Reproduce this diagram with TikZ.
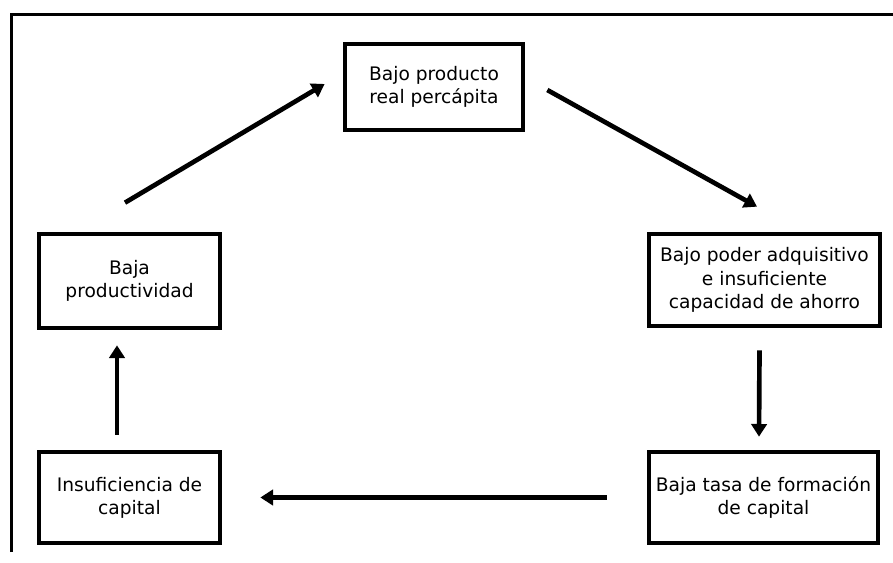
\documentclass[tikz,border=0pt]{standalone}
\usepackage{fontspec}
\setmainfont{DejaVu Sans}
\usetikzlibrary{arrows.meta}
\begin{document}
\begin{tikzpicture}[x=0.03cm,y=-0.03cm,
  caja/.style={draw,line width=0.14cm,align=center,inner sep=0pt,
    font=\fontsize{15.9}{19.8}\selectfont},
  flecha/.style={line width=0.14cm,-{Triangle[length=0.38cm,width=0.46cm]}}]
\useasboundingbox (0,0) rectangle (893,563);
% marco
\draw [line width=0.09cm] (11,552) -- (11,15) -- (893,15);
% cajas
\node [caja,minimum width=5.34cm,minimum height=2.58cm] (percapita) at (434,87) {Bajo producto\\real percápita};
\node [caja,minimum width=6.93cm,minimum height=2.76cm] (ahorro) at (764.5,280) {Bajo poder adquisitivo\\e insuficiente\\capacidad de ahorro};
\node [caja,minimum width=6.87cm,minimum height=2.73cm] (formacion) at (763.5,497.5) {Baja tasa de formación\\de capital};
\node [caja,minimum width=5.43cm,minimum height=2.73cm] (insuf) at (129.5,497.5) {Insuficiencia de\\capital};
\node [caja,minimum width=5.43cm,minimum height=2.82cm] (prod) at (129.5,281) {Baja\\productividad};
% flechas
\draw [flecha] ([shift={(22,3)}]percapita.east) -- ([shift={(-7.5,-25)}]ahorro.north);
\draw [flecha] ([shift={(-5,22)}]ahorro.south) -- ([shift={(-4.5,-13)}]formacion.north);
\draw [flecha] ([shift={(-40,0)}]formacion.west) -- ([shift={(38,0)}]insuf.east);
\draw [flecha] ([shift={(-12.5,-15)}]insuf.north) -- ([shift={(-12.5,15)}]prod.south);
\draw [flecha] ([shift={(-4.5,-29)}]prod.north) -- ([shift={(-18,-3)}]percapita.west);
\end{tikzpicture}
\end{document}
